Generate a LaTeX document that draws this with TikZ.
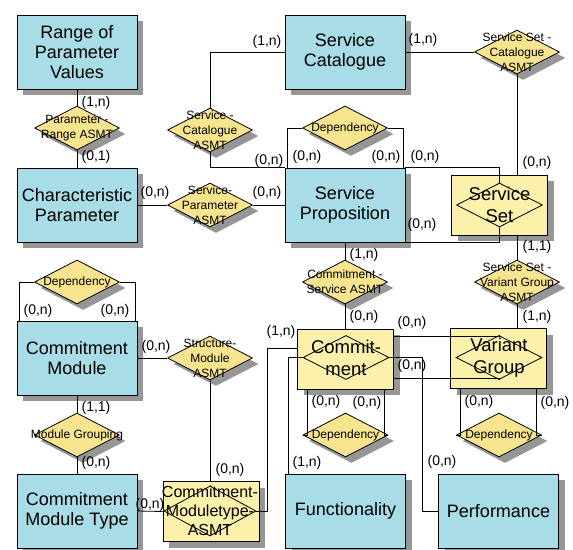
\documentclass[tikz,border=0pt]{standalone}
\usepackage{fontspec}
\setmainfont{Liberation Sans}
\usetikzlibrary{shapes.geometric,shadows}
\definecolor{entblue}{RGB}{168,220,230}
\definecolor{relyellow}{RGB}{247,228,143}
\definecolor{boxyellow}{RGB}{251,241,170}
\definecolor{shadowgray}{RGB}{150,150,150}

\begin{document}
\begin{tikzpicture}[x=1pt, y=-1pt, line width=0.8pt,
	boxshadow/.style={drop shadow={shadow xshift=6pt, shadow yshift=-6pt, fill=shadowgray, opacity=1}},
	entity/.style={draw, fill=entblue, boxshadow, minimum width=120pt, minimum height=74pt, align=center, font=\fontsize{18}{20}\selectfont},
	assoc/.style={draw, fill=boxyellow, boxshadow, minimum width=96pt, minimum height=60pt},
	insetdia/.style={diamond, draw, minimum width=86pt, minimum height=44pt, inner sep=0pt},
	boxtext/.style={align=center, font=\fontsize{18.5}{22}\selectfont},
	rel/.style={diamond, draw, fill=relyellow, boxshadow, minimum width=85pt, minimum height=44pt, inner sep=0pt},
	reltext/.style={align=center, font=\fontsize{12}{15}\selectfont},
	card/.style={inner sep=0pt, font=\fontsize{14}{14}\selectfont}]

	\useasboundingbox (0,0) rectangle (573,549);

	% entities
	\node[entity] (range) at (77,52) {Range of\\Parameter\\Values};
	\node[entity] (charpar) at (77,205) {Characteristic\\Parameter};
	\node[entity] (servcat) at (345,52) {Service\\Catalogue};
	\node[entity] (servprop) at (345,205) {Service\\Proposition};
	\node[entity] (commod) at (77,358) {Commitment\\Module};
	\node[entity] (cmtype) at (77,511) {Commitment\\Module Type};
	\node[entity] (funct) at (345.5,511) {Functionality};
	\node[entity] (perf) at (498.5,511) {Performance};

	% associative entities
	\node[assoc] (servset) at (499.5,205) {};
	\node[insetdia, label={[boxtext]center:{Service\\Set}}] (servsetd) at (499.5,205) {};
	\node[assoc] (commit) at (345.5,359) {};
	\node[insetdia, label={[boxtext]center:{Commit-\\ment}}] (commitd) at (346,357.5) {};
	\node[assoc] (vargroup) at (498.5,358.5) {};
	\node[insetdia, label={[boxtext]center:{Variant\\Group}}] (vargroupd) at (499,357.5) {};
	\node[assoc] (cmtasmt) at (211,511.5) {};
	\node[insetdia, minimum width=92pt, minimum height=50pt, label={[align=center, font=\fontsize{16}{19}\selectfont]center:{Commitment-\\Moduletype-\\ASMT}}] (cmtasmtd) at (210,511) {};

	% relationships
	\node[rel, label={[reltext]center:{Parameter -\\Range ASMT}}] (pra) at (77,128) {};
	\node[rel, label={[reltext]center:{Service -\\Catalogue\\ASMT}}] (sca) at (210,130) {};
	\node[rel, label={[reltext]center:{Service-\\Parameter\\ASMT}}] (spa) at (210,205) {};
	\node[rel, label={[reltext]center:{Service Set -\\Catalogue\\ASMT}}] (ssca) at (517,52) {};
	\node[rel, label={[reltext]center:{Dependency}}] (depsp) at (345,128) {};
	\node[rel, label={[reltext]center:{Dependency}}] (depcm) at (77,282) {};
	\node[rel, label={[reltext]center:{Structure-\\Module\\ASMT}}] (sma) at (210,358) {};
	\node[rel, label={[reltext]center:{Module Grouping}}] (mg) at (77,435) {};
	\node[rel, label={[reltext]center:{Commitment -\\Service ASMT}}] (csa) at (345,282) {};
	\node[rel, label={[reltext]center:{Service Set -\\Variant Group\\ASMT}}] (ssvg) at (517,282) {};
	\node[rel, label={[reltext]center:{Dependency}}] (depc) at (345.5,435) {};
	\node[rel, label={[reltext]center:{Dependency}}] (depvg) at (499,435) {};

	% connectors
	\draw (range.south) -- (pra.north) node[card] at (96,103) {(1,n)};
	\draw (pra.south) -- (charpar.north) node[card] at (96,157) {(0,1)};
	\draw (sca.north) |- (servcat.west) node[card] at (267,42) {(1,n)};
	\draw (sca.south) |- (servprop.north west) node[card] at (269,161) {(0,n)};
	\draw (charpar.east) -- (spa.west) node[card] at (155,193) {(0,n)};
	\draw (spa.east) -- (servprop.west) node[card] at (267,193) {(0,n)};
	\draw (depsp.west) -| ([xshift=-58pt]servprop.north) node[card] at (307,157) {(0,n)};
	\draw (depsp.east) -| ([xshift=58pt]servprop.north) node[card] at (386,157) {(0,n)};
	\draw (servprop.north east) -| (servsetd.north) node[card] at (425,157) {(0,n)};
	\draw (servprop.south east) -| (servsetd.south) node[card] at (422,225) {(0,n)};
	\draw (servcat.east) -- (ssca.west) node[card] at (423,40) {(1,n)};
	\draw (ssca.south) -- (ssca.south |- servset.north) node[card] at (537,163) {(0,n)};
	\draw (ssvg.north) -- (ssvg.north |- servset.south) node[card] at (537,247) {(1,1)};
	\draw (ssvg.south) -- (ssvg.south |- vargroup.north) node[card] at (537,317) {(1,n)};
	\draw (servprop.south) -- (csa.north) node[card] at (364,255) {(1,n)};
	\draw (csa.south) -- (csa.south |- commit.north) node[card] at (364,317) {(0,n)};

	\draw (depcm.west) -| ([xshift=-58pt]commod.north) node[card] at (38,311) {(0,n)};
	\draw (depcm.east) -| ([xshift=58pt]commod.north) node[card] at (115,311) {(0,n)};
	\draw (commod.east) -- (sma.west) node[card] at (156,347) {(0,n)};
	\draw (sma.south) -- (sma.south |- cmtasmt.north) node[card] at (230,470) {(0,n)};
	\draw (commod.south) -- (mg.north) node[card] at (96,408) {(1,1)};
	\draw (mg.south) -- (cmtype.north) node[card] at (96,463) {(0,n)};
	\draw (cmtype.east) -- (cmtasmt.west) node[card] at (150,505) {(0,n)};

	\draw (cmtasmtd.east) -- ++(11,0) |- ([yshift=11pt]commit.west) node[card] at (281,332) {(1,n)};
	\draw ([xshift=-57pt]funct.north) |- (commitd.west) node[card] at (307,463) {(1,n)};
	\draw (perf.west) -- ++(-16,0) |- (commitd.east) node[card] at (442,462) {(0,n)};
	\draw ([yshift=23pt]commit.east) -| (vargroupd.north) node[card] at (412,323) {(0,n)};
	\draw ([yshift=-19pt]commit.east) -| (vargroupd.south) node[card] at (412,366) {(0,n)};
	\draw ([xshift=-38pt]commit.south) |- (depc.west) node[card] at (326,402) {(0,n)};
	\draw ([xshift=39pt]commit.south) |- (depc.east) node[card] at (367,403) {(0,n)};
	\draw ([xshift=-38pt]vargroup.south) |- (depvg.west) node[card] at (479,402) {(0,n)};
	\draw ([xshift=38pt]vargroup.south) |- (depvg.east) node[card] at (555,403) {(0,n)};

\end{tikzpicture}
\end{document}
